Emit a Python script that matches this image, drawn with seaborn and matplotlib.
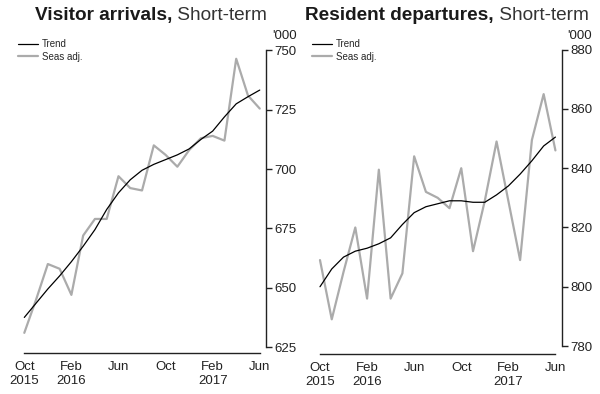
import matplotlib
matplotlib.use("Agg")
import matplotlib.pyplot as plt
import seaborn as sns
import pandas as pd

# monthly, Oct 2015 .. Jun 2017 ('000)
months = ["Oct 2015", "Nov 2015", "Dec 2015", "Jan 2016", "Feb 2016", "Mar 2016",
          "Apr 2016", "May 2016", "Jun 2016", "Jul 2016", "Aug 2016", "Sep 2016",
          "Oct 2016", "Nov 2016", "Dec 2016", "Jan 2017", "Feb 2017", "Mar 2017",
          "Apr 2017", "May 2017", "Jun 2017"]

arrivals_trend = [637.5, 643.5, 649.5, 655, 661, 667.5, 674.5, 683, 690, 695.5, 699.5,
                  702, 704, 706, 708.5, 712.5, 716, 722, 727.5, 730.5, 733.3]
arrivals_sa = [631, 645, 660, 658, 647, 672, 679, 679, 697, 692, 691,
               710, 706, 701, 708, 713, 714, 712, 746.5, 731, 725.5]

departures_trend = [800, 806, 810, 812, 813, 814.5, 816.5, 821, 825, 827, 828,
                    829, 829, 828.5, 828.5, 831, 834, 838, 842.5, 847.5, 850.5]
departures_sa = [809, 789, 805, 820, 796, 839.5, 796, 804.5, 844, 832, 830,
                 826.5, 840, 812, 829, 849, 829, 809, 849.5, 865, 846]

tick_pos = [0, 4, 8, 12, 16, 20]
tick_labels = ["Oct\n2015", "Feb\n2016", "Jun", "Oct", "Feb\n2017", "Jun"]

sns.set_style("white")
plt.rcParams["font.family"] = ["Liberation Sans", "DejaVu Sans"]

fig = plt.figure(figsize=(6, 3.94), dpi=100)
ax1 = fig.add_axes([0.0307, 0.104, 0.413, 0.774])
ax2 = fig.add_axes([0.5235, 0.1015, 0.413, 0.780])


def draw(ax, trend, sa, ylim, yticks, bold, leg_x, unit_x, title_x):
    df = pd.DataFrame({"month": months, "Trend": trend, "Seas adj.": sa})
    sns.lineplot(data=df, x="month", y="Seas adj.", ax=ax, color="#ababab",
                 linewidth=1.6, sort=False, label="Seas adj.")
    sns.lineplot(data=df, x="month", y="Trend", ax=ax, color="black",
                 linewidth=0.9, sort=False, label="Trend")

    ax.set_xlim(-0.5, 20.55)
    ax.set_ylim(*ylim)
    ax.set_xlabel("")
    ax.set_ylabel("")
    ax.set_xticks(tick_pos)
    ax.set_xticklabels(tick_labels)
    ax.set_yticks(yticks)
    ax.yaxis.tick_right()

    for s in ["top", "left"]:
        ax.spines[s].set_visible(False)
    for s in ["right", "bottom"]:
        ax.spines[s].set_color("#222222")
        ax.spines[s].set_linewidth(1.0)
    ax.spines["right"].set_bounds(yticks[0], yticks[-1])
    ax.spines["bottom"].set_bounds(0, 20)

    ax.tick_params(axis="both", direction="out", length=4, width=1,
                   color="#222222", labelsize=9.5, labelcolor="#222222", pad=2)
    ax.tick_params(axis="y", left=False, right=True)

    h, l = ax.get_legend_handles_labels()
    ax.legend(h[::-1], l[::-1], loc="upper left", bbox_to_anchor=(leg_x, 0.900),
              bbox_transform=fig.transFigure, frameon=False, fontsize=7,
              borderpad=0, borderaxespad=0, handlelength=2.1,
              handletextpad=0.35, labelspacing=0.25)

    fig.text(unit_x, 1 - 36 / 394, "'000", fontsize=9.5, color="#222222",
             va="center", ha="left")

    t = fig.text(title_x, 1 - 20 / 394, bold, fontsize=13.7, weight="bold",
                 color="#1a1a1a", va="baseline", ha="left")
    ax.annotate(" Short-term", xy=(1, 0), xycoords=t, va="bottom", ha="left",
                fontsize=13.7, color="#333333", annotation_clip=False)


draw(ax1, arrivals_trend, arrivals_sa, (622.5, 751), [625, 650, 675, 700, 725, 750],
     "Visitor arrivals,", 0.03, 272 / 600, 35 / 600)
draw(ax2, departures_trend, departures_sa, (777.3, 881), [780, 800, 820, 840, 860, 880],
     "Resident departures,", 0.52, 567 / 600, 305 / 600)

fig.savefig("out.png", dpi=100, facecolor="white")
